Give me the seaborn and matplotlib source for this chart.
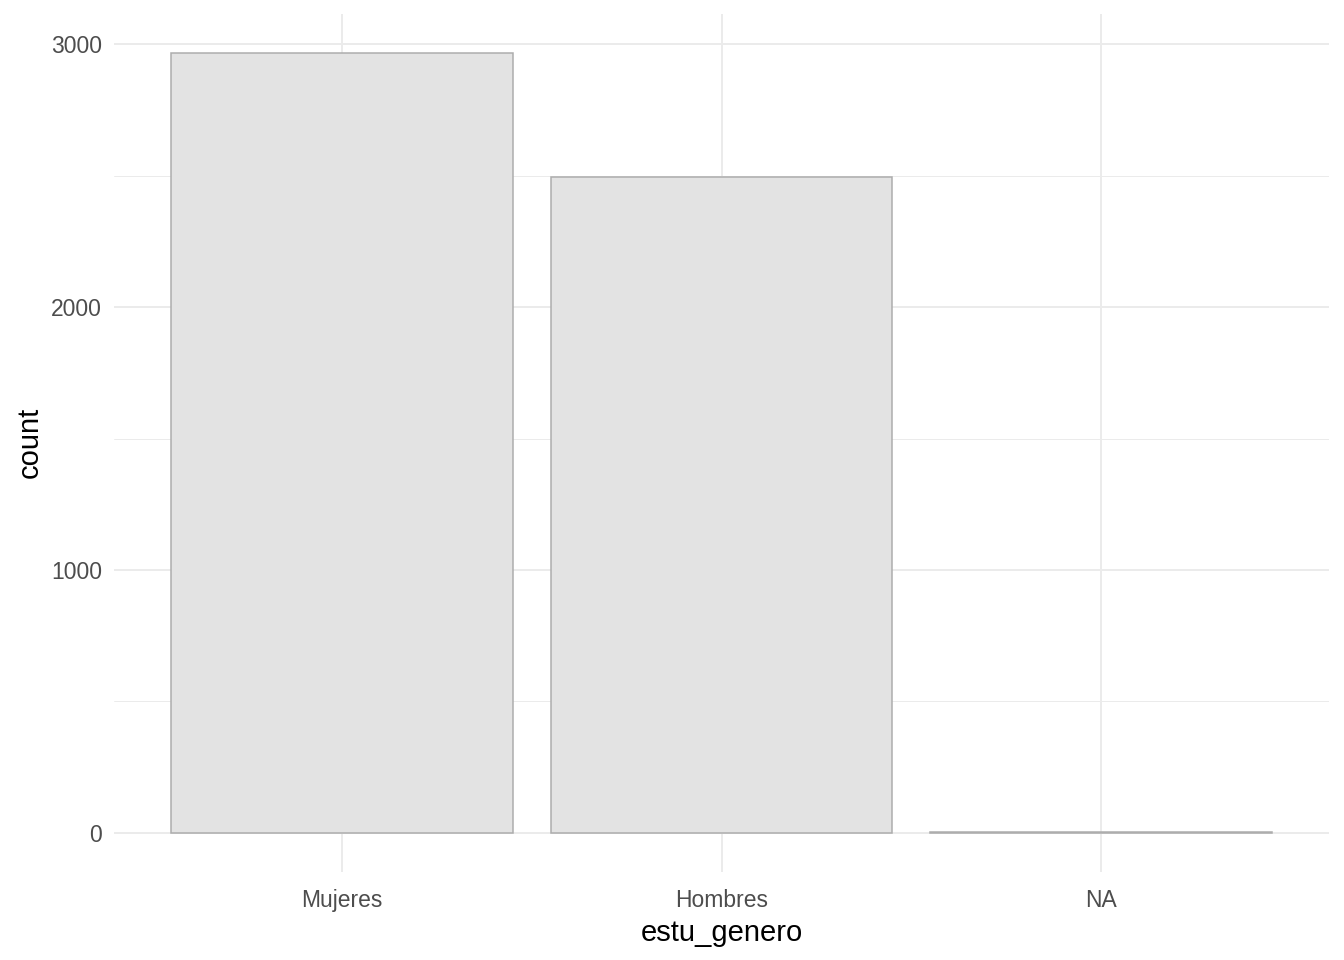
import matplotlib
matplotlib.use("Agg")
import matplotlib.pyplot as plt
import matplotlib.ticker as mticker
import pandas as pd
import seaborn as sns

# data
categories = ["Mujeres", "Hombres", "NA"]
counts = [2968, 2496, 2]
y_ticks = [0, 1000, 2000, 3000]
y_minor = [500, 1500, 2500]

df = pd.DataFrame({"estu_genero": categories, "count": counts})

sns.set_theme(style="white")
plt.rcParams["font.family"] = ["Liberation Sans", "DejaVu Sans"]

fig = plt.figure(figsize=(13.44, 9.6), dpi=100)
ax = fig.add_axes([114.3 / 1344, 88 / 960, (1328.7 - 114.3) / 1344, (872 - 13.5) / 960])

sns.barplot(
    data=df,
    x="estu_genero",
    y="count",
    order=categories,
    color="#e3e3e3",
    saturation=1,
    width=0.9,
    edgecolor="#adadad",
    linewidth=1.1,
    ax=ax,
    zorder=3,
)

ymax = max(counts)
pad = ymax * 0.05
ax.set_ylim(-pad, ymax + pad)
ax.set_xlim(-0.6, len(categories) - 0.4)

ax.yaxis.set_major_locator(mticker.FixedLocator(y_ticks))
ax.yaxis.set_minor_locator(mticker.FixedLocator(y_minor))
ax.grid(True, which="major", color="#ebebeb", linewidth=1.4, zorder=0)
ax.grid(True, which="minor", axis="y", color="#ebebeb", linewidth=0.7, zorder=0)
ax.set_axisbelow(True)

for s in ax.spines.values():
    s.set_visible(False)

ax.tick_params(axis="both", which="both", length=0, labelsize=16.5, colors="#4d4d4d")
ax.tick_params(axis="x", pad=12)
ax.tick_params(axis="y", pad=9)
ax.set_xlabel("estu_genero", fontsize=21, color="black", labelpad=5)
ax.set_ylabel("count", fontsize=21, color="black", labelpad=5)

fig.savefig("out.png", dpi=100)
plt.close(fig)
